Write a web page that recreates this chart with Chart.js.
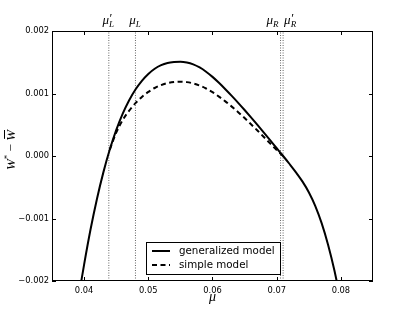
<!DOCTYPE html>
<html>
<head>
<meta charset="utf-8">
<script src="https://cdn.jsdelivr.net/npm/chart.js@4.4.1/dist/chart.umd.min.js"></script>
<style>
html, body { margin: 0; padding: 0; background: #fff; }
</style>
</head>
<body>
<canvas id="welfareChart" width="415" height="312"></canvas>
<script>
// W* - W-bar against mu, generalized vs simple model


let muGeneral = [
    0.0395, 0.040, 0.041, 0.042, 0.043, 0.044, 0.045, 0.046, 0.047, 0.048,
    0.049, 0.050, 0.051, 0.052, 0.053, 0.054, 0.055, 0.056, 0.057, 0.058,
    0.059, 0.060, 0.061, 0.062, 0.063, 0.064, 0.065, 0.066, 0.067, 0.068,
    0.069, 0.070, 0.071, 0.072, 0.073, 0.074, 0.075, 0.076, 0.077, 0.078,
    0.079, 0.0794
];

let wGeneral = [
    -0.002040, -0.001737, -0.001177, -0.000687, -0.000262, 0.000103, 0.000413, 0.000673, 0.000888, 0.001063,
    0.001203, 0.001313, 0.001396, 0.001454, 0.001489, 0.001504, 0.001509, 0.001497, 0.001467, 0.001417,
    0.001349, 0.001266, 0.001171, 0.001069, 0.000962, 0.000851, 0.000736, 0.000618, 0.000497, 0.000374,
    0.000250, 0.000125, 0.000000, -0.000128, -0.000261, -0.000406, -0.000579, -0.000797, -0.001075, -0.001420,
    -0.001835, -0.002030
];

let muSimple = [
    0.044, 0.045, 0.046, 0.047, 0.048, 0.049, 0.050, 0.051, 0.052, 0.053,
    0.054, 0.055, 0.056, 0.057, 0.058, 0.059, 0.060, 0.061, 0.062, 0.063,
    0.064, 0.065, 0.066, 0.067, 0.068, 0.069, 0.070, 0.071
];

let wSimple = [
    0.000103, 0.000373, 0.000573, 0.000723, 0.000845, 0.000945, 0.001025, 0.001088, 0.001135, 0.001167,
    0.001185, 0.001190, 0.001182, 0.001161, 0.001127, 0.001080, 0.001021, 0.000951, 0.000874, 0.000790,
    0.000701, 0.000607, 0.000508, 0.000407, 0.000304, 0.000200, 0.000095, 0.000000
];

let markerMu = [0.04385, 0.0480, 0.0706, 0.0710];
let markerSub = ["L", "L", "R", "R"];
let markerPrime = [true, false, false, true];

let xTicks = [0.04, 0.05, 0.06, 0.07, 0.08];
let yTicks = [-0.002, -0.001, 0.000, 0.001, 0.002];

let seriesNames = ["generalized model", "simple model"];



function toPoints(xs, ys){
    return xs.map((v, i) => ({ x: v, y: ys[i] }));
}


function fmtY(v){
    if(Math.abs(v) < 1e-9) return "0.000";
    return (v < 0 ? "\u2212" : "") + Math.abs(v).toFixed(3);
}


const SERIF = '"Liberation Serif", serif';
const SANS = '"DejaVu Sans", sans-serif';
const DASH = [5, 3.5];


let datasets = [
    {
        label: seriesNames[0],
        data: toPoints(muGeneral, wGeneral),
        borderColor: "#000",
        borderWidth: 2,
        pointRadius: 0,
        cubicInterpolationMode: "monotone",
        fill: false
    },
    {
        label: seriesNames[1],
        data: toPoints(muSimple, wSimple),
        borderColor: "#000",
        borderWidth: 2,
        borderDash: DASH,
        pointRadius: 0,
        cubicInterpolationMode: "monotone",
        fill: false
    }
];

markerMu.forEach(m => {
    datasets.push({
        label: "marker",
        data: [{ x: m, y: yTicks[0] }, { x: m, y: yTicks[yTicks.length - 1] }],
        borderColor: "#666",
        borderWidth: 1,
        borderDash: [1, 1.5],
        pointRadius: 0,
        fill: false
    });
});



// frame, inward ticks, titles, marker labels, legend
const decorations = {

    id: "decorations",

    afterDatasetsDraw(chart){

        const { ctx, chartArea: a, scales: { x, y } } = chart;

        ctx.save();
        ctx.strokeStyle = "#000";
        ctx.lineWidth = 1;
        ctx.setLineDash([]);
        ctx.strokeRect(a.left + 0.5, a.top + 0.5, a.width - 1, a.height - 1);

        ctx.beginPath();
        xTicks.forEach(v => {
            let px = Math.round(x.getPixelForValue(v)) + 0.5;
            ctx.moveTo(px, a.bottom); ctx.lineTo(px, a.bottom - 4);
            ctx.moveTo(px, a.top);    ctx.lineTo(px, a.top + 4);
        });
        yTicks.forEach(v => {
            let py = Math.round(y.getPixelForValue(v)) + 0.5;
            ctx.moveTo(a.left, py);  ctx.lineTo(a.left + 4, py);
            ctx.moveTo(a.right, py); ctx.lineTo(a.right - 4, py);
        });
        ctx.stroke();
        ctx.restore();
    },

    afterDraw(chart){

        const { ctx, chartArea: a, scales: { x } } = chart;

        ctx.save();
        ctx.fillStyle = "#000";
        ctx.textBaseline = "alphabetic";

        // marker labels above the plot
        let align = ["center", "center", "right", "left"];
        markerMu.forEach((m, i) => {
            let px = x.getPixelForValue(m);
            ctx.font = "italic 13px " + SERIF;
            let wMu = ctx.measureText("\u03bc").width;
            ctx.font = "italic 9px " + SERIF;
            let wSub = ctx.measureText(markerSub[i]).width;
            let total = wMu + wSub + 1;
            let start = px - total / 2;
            if(align[i] === "right") start = px - total - 1;
            if(align[i] === "left") start = px + 1;
            ctx.font = "italic 13px " + SERIF;
            ctx.fillText("\u03bc", start, 24);
            ctx.font = "italic 9px " + SERIF;
            ctx.fillText(markerSub[i], start + wMu, 27);
            if(markerPrime[i]){
                ctx.font = "13px " + SERIF;
                ctx.fillText("\u2032", start + wMu + 0.5, 22);
            }
        });

        // x title
        ctx.font = "italic 14px " + SERIF;
        ctx.textAlign = "center";
        ctx.fillText("\u03bc", (a.left + a.right) / 2, 301);

        // y title, rotated
        ctx.save();
        ctx.translate(15, 150);
        ctx.rotate(-Math.PI / 2);
        ctx.textAlign = "left";
        let parts = [
            { t: "W", f: "italic 13px " + SERIF, dy: 0 },
            { t: "*", f: "9px " + SERIF, dy: -5 },
            { t: " \u2212 ", f: "13px " + SERIF, dy: 0 },
            { t: "W", f: "italic 13px " + SERIF, dy: 0 }
        ];
        let widths = parts.map(p => { ctx.font = p.f; return ctx.measureText(p.t).width; });
        let cx = -widths.reduce((s, w) => s + w, 0) / 2;
        parts.forEach((p, i) => {
            ctx.font = p.f;
            ctx.fillText(p.t, cx, p.dy);
            if(i === 3){
                ctx.fillRect(cx + 2, -11, widths[i] - 2, 1);
            }
            cx += widths[i];
        });
        ctx.restore();

        // legend
        let box = { x: 146.5, y: 242.5, w: 134, h: 32 };
        ctx.fillStyle = "#fff";
        ctx.fillRect(box.x, box.y, box.w, box.h);
        ctx.strokeStyle = "#000";
        ctx.lineWidth = 1;
        ctx.strokeRect(box.x, box.y, box.w, box.h);

        let rows = [251, 265];
        seriesNames.forEach((name, i) => {
            ctx.beginPath();
            ctx.lineWidth = 2;
            ctx.setLineDash(i === 1 ? DASH : []);
            ctx.moveTo(152, rows[i]);
            ctx.lineTo(170, rows[i]);
            ctx.stroke();
            ctx.setLineDash([]);
            ctx.fillStyle = "#000";
            ctx.font = "10.3px " + SANS;
            ctx.textAlign = "left";
            ctx.textBaseline = "middle";
            ctx.fillText(name, 179, rows[i]);
        });

        ctx.restore();
    }
};



new Chart(
    document.getElementById("welfareChart"),
    {
        type: "line",

        data: { datasets: datasets },

        options: {
            responsive: false,
            animation: false,
            devicePixelRatio: 1,
            layout: { padding: { left: 0, top: 31, right: 42, bottom: 0 } },

            plugins: {
                legend: { display: false },
                tooltip: { enabled: false }
            },

            scales: {
                x: {
                    type: "linear",
                    min: 0.035,
                    max: 0.085,
                    afterBuildTicks: s => { s.ticks = xTicks.map(v => ({ value: v })); },
                    afterFit: s => { s.height = 31; },
                    grid: { display: false, drawTicks: false },
                    border: { display: false },
                    ticks: {
                        padding: 5,
                        color: "#000",
                        font: { family: SANS, size: 8.3 },
                        maxRotation: 0,
                        callback: v => v.toFixed(2)
                    }
                },
                y: {
                    type: "linear",
                    min: -0.002,
                    max: 0.002,
                    afterBuildTicks: s => { s.ticks = yTicks.map(v => ({ value: v })); },
                    afterFit: s => { s.width = 52; },
                    grid: { display: false, drawTicks: false },
                    border: { display: false },
                    ticks: {
                        padding: 3,
                        color: "#000",
                        font: { family: SANS, size: 8.3 },
                        callback: v => fmtY(v)
                    }
                }
            }
        },

        plugins: [decorations]
    }
);

</script>
</body>
</html>
